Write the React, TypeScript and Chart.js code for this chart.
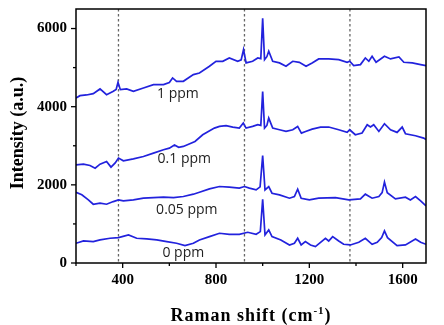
import React, { useEffect, useRef } from 'react';
import { Chart, registerables } from 'chart.js';

Chart.register(...registerables);

// ---- data (Raman shift in cm-1, intensity in a.u.) ----
const ppm0Shift = [200, 232, 274, 303, 346, 382, 425, 460, 503, 546, 589, 631, 667, 703, 729, 772, 815, 857, 900, 936, 972, 990, 1000, 1010, 1026, 1040, 1078, 1115, 1136, 1150, 1165, 1183, 1205, 1226, 1269, 1283, 1300, 1326, 1347, 1376, 1412, 1440, 1469, 1491, 1510, 1522, 1535, 1576, 1612, 1655, 1677, 1700];
const ppm0Intensity = [505, 564, 547, 590, 633, 650, 718, 633, 615, 590, 547, 505, 444, 505, 590, 675, 761, 735, 735, 786, 735, 803, 1630, 718, 846, 675, 590, 462, 505, 633, 462, 547, 462, 419, 633, 564, 675, 564, 479, 462, 530, 633, 479, 530, 650, 820, 650, 444, 462, 615, 530, 479];

const ppm005Shift = [200, 225, 253, 274, 303, 331, 360, 382, 403, 446, 489, 532, 575, 618, 660, 703, 729, 772, 815, 857, 900, 922, 943, 972, 989, 1000, 1010, 1026, 1040, 1072, 1115, 1136, 1150, 1165, 1200, 1240, 1312, 1369, 1419, 1440, 1469, 1498, 1512, 1522, 1534, 1569, 1612, 1633, 1655, 1677, 1700];
const ppm005Intensity = [1812, 1744, 1615, 1504, 1530, 1504, 1572, 1615, 1590, 1615, 1658, 1675, 1684, 1675, 1701, 1761, 1812, 1897, 1957, 1940, 1915, 1957, 1915, 1872, 1950, 2750, 1872, 1957, 1786, 1744, 1658, 1701, 1890, 1658, 1615, 1658, 1675, 1615, 1641, 1761, 1658, 1701, 1800, 2069, 1800, 1641, 1684, 1615, 1701, 1590, 1460];

const ppm01Shift = [200, 232, 260, 282, 303, 331, 350, 368, 382, 403, 446, 489, 532, 575, 600, 622, 640, 660, 710, 743, 793, 815, 843, 872, 900, 917, 929, 957, 979, 992, 1000, 1008, 1018, 1026, 1043, 1072, 1100, 1129, 1150, 1166, 1184, 1212, 1248, 1283, 1326, 1362, 1373, 1397, 1426, 1448, 1462, 1476, 1498, 1522, 1548, 1576, 1598, 1612, 1655, 1690, 1700];
const ppm01Intensity = [2513, 2530, 2495, 2427, 2530, 2598, 2453, 2560, 2684, 2615, 2666, 2726, 2812, 2897, 2940, 3020, 2960, 2983, 3111, 3282, 3453, 3495, 3513, 3479, 3453, 3582, 3453, 3495, 3538, 3520, 4385, 3453, 3520, 3709, 3453, 3410, 3367, 3410, 3495, 3325, 3367, 3427, 3479, 3479, 3410, 3342, 3410, 3282, 3325, 3538, 3479, 3538, 3367, 3564, 3410, 3342, 3479, 3308, 3256, 3197, 3160];

const ppm1Shift = [200, 217, 245, 274, 303, 331, 360, 372, 380, 390, 417, 446, 489, 532, 575, 600, 614, 631, 660, 703, 729, 772, 800, 829, 857, 893, 908, 918, 929, 957, 979, 992, 1000, 1008, 1018, 1026, 1043, 1072, 1100, 1129, 1157, 1186, 1212, 1240, 1283, 1326, 1362, 1373, 1390, 1419, 1440, 1455, 1469, 1486, 1522, 1548, 1584, 1605, 1641, 1677, 1700];
const ppm1Intensity = [4220, 4282, 4300, 4333, 4454, 4307, 4393, 4440, 4623, 4436, 4454, 4393, 4479, 4564, 4564, 4620, 4735, 4649, 4649, 4820, 4863, 5034, 5162, 5162, 5248, 5162, 5200, 5461, 5120, 5162, 5248, 5230, 6260, 5205, 5280, 5418, 5162, 5120, 5034, 5162, 5136, 5034, 5120, 5222, 5222, 5205, 5136, 5162, 5051, 5077, 5248, 5162, 5290, 5136, 5290, 5222, 5273, 5136, 5120, 5077, 5051];

const seriesNames = ['0 ppm', '0.05 ppm', '0.1 ppm', '1 ppm'];
const nameShift = [660, 675, 664, 637];
const nameIntensity = [264, 1351, 2667, 4316];

const xMajorTicks = [400, 800, 1200, 1600];
const xMinorTicks = [200, 600, 1000, 1400];
const yMajorTicks = [0, 2000, 4000, 6000];
const yMinorTicks = [1000, 3000, 5000];
const markerShifts = [382, 922, 1374];

const xTitle = 'Raman shift (cm';
const xTitleSup = '-1';
const xTitleEnd = ')';
const yTitle = 'Intensity (a.u.)';

const LINE_COLOR = '#2222dd';
const SERIF = '"Liberation Serif", "Times New Roman", serif';

const decoPlugin = {
  id: 'deco',
  beforeDatasetsDraw(chart: any) {
    const { ctx, chartArea: a, scales } = chart;
    const x = scales.x;
    ctx.save();
    ctx.strokeStyle = '#666';
    ctx.lineWidth = 1.3;
    ctx.setLineDash([2.5, 2.5]);
    markerShifts.forEach((v) => {
      const px = x.getPixelForValue(v);
      ctx.beginPath();
      ctx.moveTo(px, a.top);
      ctx.lineTo(px, a.bottom);
      ctx.stroke();
    });
    ctx.restore();
  },
  afterDatasetsDraw(chart: any) {
    const { ctx, scales } = chart;
    const x = scales.x;
    const y = scales.y;
    ctx.save();
    ctx.font = '14px "Open Sans", "Noto Sans", sans-serif';
    ctx.fillStyle = '#222';
    ctx.textAlign = 'center';
    ctx.textBaseline = 'middle';
    seriesNames.forEach((n, i) => {
      ctx.fillText(n, x.getPixelForValue(nameShift[i]), y.getPixelForValue(nameIntensity[i]));
    });
    ctx.restore();
  },
  afterDraw(chart: any) {
    const { ctx, chartArea: a, scales } = chart;
    const x = scales.x;
    const y = scales.y;
    ctx.save();
    ctx.strokeStyle = '#000';
    ctx.lineWidth = 1.5;
    ctx.strokeRect(a.left, a.top, a.right - a.left, a.bottom - a.top);
    ctx.lineWidth = 1.3;
    const tick = (x1: number, y1: number, x2: number, y2: number) => {
      ctx.beginPath();
      ctx.moveTo(x1, y1);
      ctx.lineTo(x2, y2);
      ctx.stroke();
    };
    xMajorTicks.forEach((v) => { const p = x.getPixelForValue(v); tick(p, a.bottom, p, a.bottom + 5); });
    xMinorTicks.forEach((v) => { const p = x.getPixelForValue(v); tick(p, a.bottom, p, a.bottom + 3); });
    yMajorTicks.forEach((v) => { const p = y.getPixelForValue(v); tick(a.left - 5, p, a.left, p); });
    yMinorTicks.forEach((v) => { const p = y.getPixelForValue(v); tick(a.left - 3, p, a.left, p); });

    // tick labels
    ctx.fillStyle = '#000';
    ctx.font = 'bold 15px ' + SERIF;
    ctx.textBaseline = 'middle';
    ctx.textAlign = 'center';
    xMajorTicks.forEach((v) => ctx.fillText(String(v), x.getPixelForValue(v), a.bottom + 17));
    ctx.textAlign = 'right';
    yMajorTicks.forEach((v) => ctx.fillText(String(v), a.left - 9, y.getPixelForValue(v)));

    // y axis title
    ctx.font = 'bold 18px ' + SERIF;
    ctx.textBaseline = 'alphabetic';
    ctx.save();
    ctx.translate(23, 133);
    ctx.rotate(-Math.PI / 2);
    ctx.textAlign = 'center';
    ctx.fillText(yTitle, 0, 0);
    ctx.restore();

    // x axis title with superscript
    ctx.textAlign = 'left';
    (ctx as any).letterSpacing = '1px';
    ctx.font = 'bold 18px ' + SERIF;
    const w1 = ctx.measureText(xTitle).width;
    const w3 = ctx.measureText(xTitleEnd).width;
    ctx.font = 'bold 11px ' + SERIF;
    const w2 = ctx.measureText(xTitleSup).width;
    const total = w1 + w2 + w3;
    let sx = 251 - total / 2;
    const base = 321;
    ctx.font = 'bold 18px ' + SERIF;
    ctx.fillText(xTitle, sx, base);
    sx += w1;
    ctx.font = 'bold 11px ' + SERIF;
    ctx.fillText(xTitleSup, sx, base - 7);
    sx += w2;
    ctx.font = 'bold 18px ' + SERIF;
    ctx.fillText(xTitleEnd, sx, base);
    ctx.restore();
  },
};

export default function App() {
  const ref = useRef<HTMLCanvasElement | null>(null);
  useEffect(() => {
    const canvas = ref.current;
    if (!canvas) return;
    const series = [
      [ppm0Shift, ppm0Intensity],
      [ppm005Shift, ppm005Intensity],
      [ppm01Shift, ppm01Intensity],
      [ppm1Shift, ppm1Intensity],
    ];
    const chart = new Chart(canvas, {
      type: 'line',
      data: {
        datasets: series.map(([xs, ys], i) => ({
          label: seriesNames[i],
          data: xs.map((v, j) => ({ x: v, y: ys[j] })),
          borderColor: LINE_COLOR,
          borderWidth: 1.7,
          pointRadius: 0,
          tension: 0,
          fill: false,
        })),
      },
      options: {
        animation: false,
        responsive: false,
        maintainAspectRatio: false,
        devicePixelRatio: 1,
        layout: { padding: { left: 0, top: 9, right: 18, bottom: 0 } },
        plugins: { legend: { display: false }, tooltip: { enabled: false } },
        scales: {
          x: {
            type: 'linear',
            min: 200,
            max: 1700,
            afterFit: (s: any) => { s.height = 62; s.paddingLeft = 0; s.paddingRight = 0; },
            grid: { display: false, drawTicks: false },
            border: { display: false },
            ticks: { display: false, stepSize: 200 },
          },
          y: {
            min: 0,
            max: 6500,
            afterFit: (s: any) => { s.width = 76; s.paddingTop = 0; s.paddingBottom = 0; },
            grid: { display: false, drawTicks: false },
            border: { display: false },
            ticks: { display: false, stepSize: 1000 },
          },
        },
      } as any,
      plugins: [decoPlugin],
    });
    return () => chart.destroy();
  }, []);
  return (
    <div style={{ position: 'fixed', left: 0, top: 0, width: 444, height: 325, background: '#fff' }}>
      <canvas ref={ref} width={444} height={325} style={{ width: 444, height: 325, display: 'block' }} />
    </div>
  );
}
